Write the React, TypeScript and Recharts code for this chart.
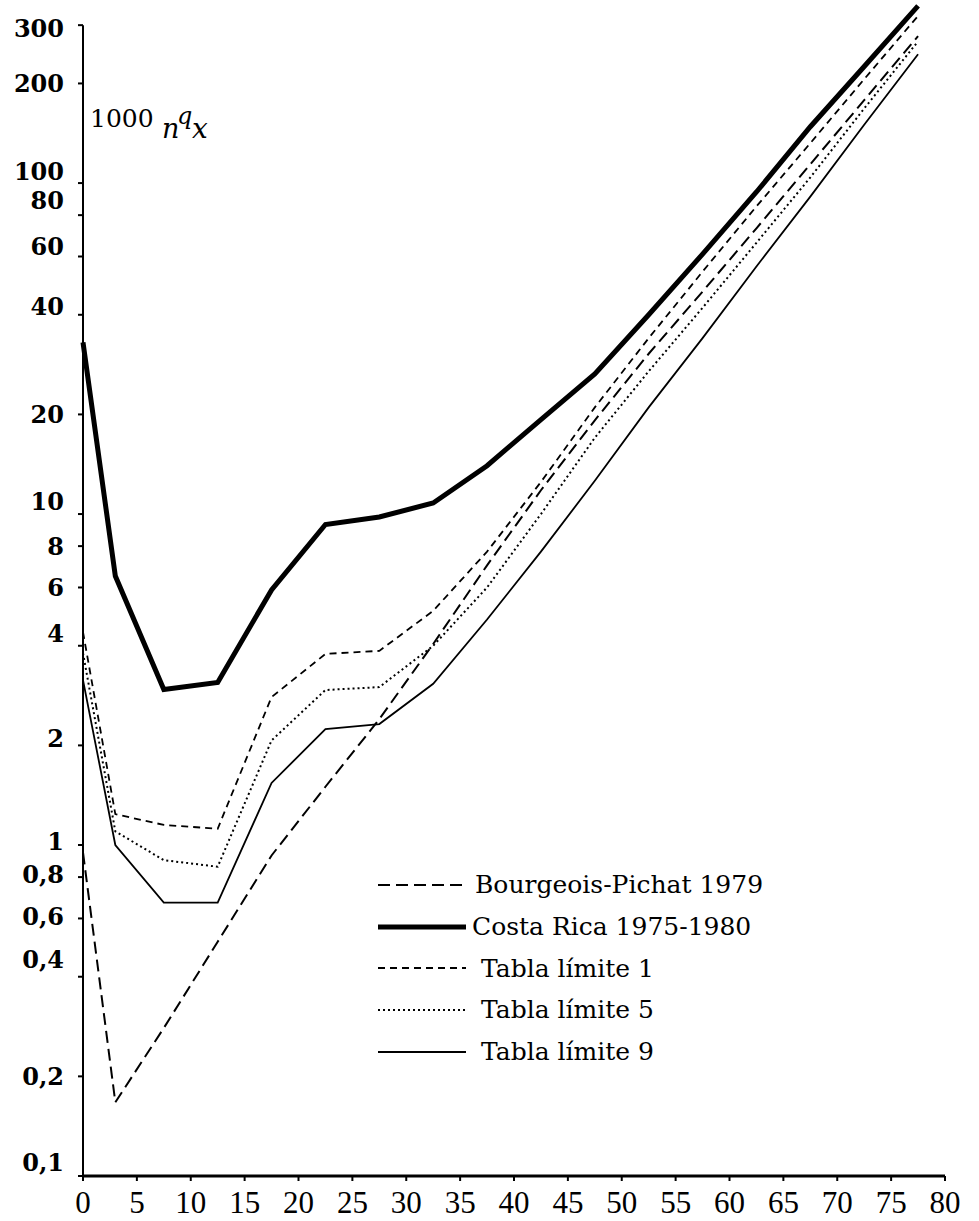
import React from "react";
import { LineChart, Line, XAxis, YAxis, ReferenceLine } from "recharts";

// age at which each group is plotted
const ages = [0, 3, 7.5, 12.5, 17.5, 22.5, 27.5, 32.5, 37.5, 42.5, 47.5, 52.5, 57.5, 62.5, 67.5, 72.5, 77.5];

// 1000 nqx
const bourgeoisPichat = [0.95, 0.167, 0.28, 0.51, 0.93, 1.5, 2.4, 4.05, 7.0, 11.8, 19.2, 30.5, 47, 73, 114, 178, 278];
const costaRica = [33, 6.5, 2.95, 3.1, 5.9, 9.3, 9.8, 10.8, 14, 19.3, 26.5, 40, 61, 94, 148, 225, 343];
const tablaLimite1 = [4.4, 1.24, 1.15, 1.12, 2.8, 3.78, 3.86, 5.1, 7.7, 12.5, 21, 34, 54, 85, 132, 206, 320];
const tablaLimite5 = [3.8, 1.1, 0.9, 0.86, 2.07, 2.94, 3.0, 4.0, 6.0, 10.0, 17, 27, 42, 66, 104, 168, 268];
const tablaLimite9 = [3.15, 1.0, 0.67, 0.67, 1.54, 2.24, 2.32, 3.07, 4.8, 7.7, 12.6, 21, 34, 56, 91, 150, 245];

const xTicks = [0, 5, 10, 15, 20, 25, 30, 35, 40, 45, 50, 55, 60, 65, 70, 75, 80];
const yTicks = [0.1, 0.2, 0.4, 0.6, 0.8, 1, 2, 4, 6, 8, 10, 20, 40, 60, 80, 100, 200, 300];

const series = [
  { key: "bp", name: "Bourgeois-Pichat 1979", values: bourgeoisPichat, width: 2, dash: "12 6", gap: 9 },
  { key: "cr", name: "Costa Rica 1975-1980", values: costaRica, width: 5, dash: undefined, gap: 6 },
  { key: "t1", name: "Tabla límite 1", values: tablaLimite1, width: 1.8, dash: "7 5", gap: 15 },
  { key: "t5", name: "Tabla límite 5", values: tablaLimite5, width: 2, dash: "2 3", gap: 15 },
  { key: "t9", name: "Tabla límite 9", values: tablaLimite9, width: 1.8, dash: undefined, gap: 15 },
];

const data = ages.map((age, i) => {
  const row: Record<string, number> = { age };
  series.forEach((s) => {
    row[s.key] = s.values[i];
  });
  return row;
});

// label nudges, the printed labels don't sit exactly on their ticks
const yLabelNudge: Record<string, number> = {
  "300": 3, "100": -12, "80": -15, "60": -10, "40": -8, "10": -13,
  "4": -12, "2": -7, "1": -4, "0.8": -3, "0.6": -2, "0.4": -17, "0.1": -14,
};

const serif = "'DejaVu Serif', serif";

function YTick(props: any) {
  const { x, y, payload } = props;
  const nudge = yLabelNudge[String(payload.value)] || 0;
  return (
    <text x={x} y={y + nudge} dy="0.36em" textAnchor="end" fontFamily={serif} fontWeight="bold" fontSize={24} fill="#000">
      {String(payload.value).replace(".", ",")}
    </text>
  );
}

function XTick(props: any) {
  const { x, y, payload } = props;
  return (
    <text x={x} y={y} dy={32} textAnchor="middle" fontFamily="'Liberation Serif', serif" fontSize={31} fill="#000">
      {payload.value}
    </text>
  );
}

export default function App() {
  return (
    <div style={{ position: "absolute", left: 0, top: 0, width: 979, height: 1221, background: "#fff" }}>
      <LineChart width={979} height={1221} data={data} margin={{ top: 3, right: 34, bottom: 0, left: 0 }}>
        <XAxis
          dataKey="age"
          type="number"
          domain={[0, 80]}
          ticks={xTicks}
          height={45}
          tickSize={5}
          tickMargin={0}
          stroke="#000"
          axisLine={{ stroke: "#000", strokeWidth: 3 }}
          tickLine={{ stroke: "#000", strokeWidth: 2 }}
          tick={<XTick />}
        />
        <YAxis
          scale="log"
          domain={[0.1, 350]}
          ticks={yTicks}
          width={83}
          tickSize={5}
          tickMargin={14}
          axisLine={false}
          tickLine={{ stroke: "#000", strokeWidth: 2 }}
          tick={<YTick />}
          allowDataOverflow
        />
        <ReferenceLine segment={[{ x: 0, y: 0.1 }, { x: 0, y: 300 }]} stroke="#000" strokeWidth={2} />
        {series.map((s) => (
          <Line
            key={s.key}
            dataKey={s.key}
            name={s.name}
            type="linear"
            stroke="#000"
            strokeWidth={s.width}
            strokeDasharray={s.dash}
            dot={false}
            activeDot={false}
            isAnimationActive={false}
          />
        ))}
      </LineChart>

      <svg width={260} height={160} style={{ position: "absolute", left: 0, top: 0 }}>
        <text x={90} y={127} fontFamily={serif} fontSize={25} fill="#000">1000</text>
        <text x={162} y={138} fontFamily={serif} fontStyle="italic" fontSize={27} fill="#000">n</text>
        <text x={177} y={124} fontFamily={serif} fontStyle="italic" fontSize={24} fill="#000">q</text>
        <text x={192} y={138} fontFamily={serif} fontStyle="italic" fontSize={28} fill="#000">x</text>
      </svg>

      <div style={{ position: "absolute", left: 378, top: 864 }}>
        {series.map((s) => (
          <div key={s.key} style={{ display: "flex", alignItems: "center", height: 41.7 }}>
            <svg width={88} height={10}>
              <line x1={0} y1={5} x2={88} y2={5} stroke="#000" strokeWidth={s.width} strokeDasharray={s.dash} />
            </svg>
            <span style={{ marginLeft: s.gap, fontFamily: serif, fontSize: 25, color: "#000", whiteSpace: "nowrap" }}>
              {s.name}
            </span>
          </div>
        ))}
      </div>
    </div>
  );
}
